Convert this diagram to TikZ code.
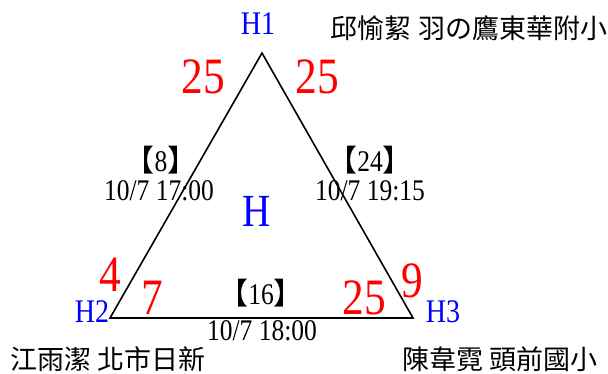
\documentclass[tikz,border=0pt]{standalone}
\usepackage{fontspec}
\setmainfont[FakeStretch=0.85]{Liberation Serif}
\newfontfamily\cjk{Noto Sans CJK TC}
\newcommand{\fsz}[1]{\fontsize{#1}{#1}\selectfont}
\newcommand{\lb}{\smash{\cjk 【}}
\newcommand{\rb}{\smash{\cjk 】}}
\begin{document}
\begin{tikzpicture}[x=1pt,y=-1pt,
  vlabel/.style={text=blue,inner sep=0pt,font=\fsz{33}},
  weight/.style={text=red,inner sep=0pt,font=\fsz{51}},
  edgelabel/.style={text=black,inner sep=0pt,font=\fsz{30}},
  school/.style={text=black,inner sep=0pt,font=\cjk\fsz{27}},
  edge/.style={draw=black,line width=1.6pt,line join=miter}]
\useasboundingbox (0,0) rectangle (608,374);
\coordinate (h1) at (262,53);
\coordinate (h2) at (110,318);
\coordinate (h3) at (413,318);
\draw[edge] (h1) -- (h2) -- (h3) -- cycle;
\node[vlabel] (n1) at (258,24) {H1};
\node[vlabel] (n2) at (92,312) {H2};
\node[vlabel] (n3) at (443,312) {H3};
\node[text=blue,inner sep=0pt,font=\fsz{46}] (hc) at (257,211) {H};
\node[weight] (w1) at (203,77) {25};
\node[weight] (w2) at (317,77) {25};
\node[weight] (w3) at (110,275) {4};
\node[weight] (w4) at (152,298) {7};
\node[weight] (w5) at (364,298) {25};
\node[weight] (w6) at (412,281) {9};
\node[edgelabel] (c1) at (161,162) {\lb 8\rb};
\node[edgelabel] (t1) at (159,191) {10/7 17:00};
\node[edgelabel] (c2) at (370,162) {\lb 24\rb};
\node[edgelabel] (t2) at (370,191) {10/7 19:15};
\node[edgelabel] (c3) at (261,295) {\lb 16\rb};
\node[edgelabel] (t3) at (262,331) {10/7 18:00};
\node[school] (s1) at (469,28) {邱愉絜 羽の鷹東華附小};
\node[school] (s2) at (108,359) {江雨潔 北市日新};
\node[school] (s3) at (500,359) {陳韋霓 頭前國小};
\end{tikzpicture}
\end{document}
